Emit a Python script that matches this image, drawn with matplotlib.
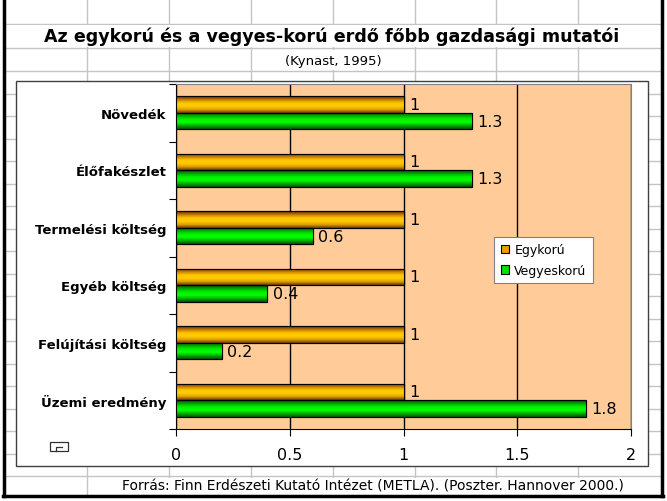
import matplotlib
matplotlib.use("Agg")
import matplotlib.pyplot as plt
import numpy as np
from matplotlib.colors import LinearSegmentedColormap
from matplotlib.patches import Rectangle

categories = ["Növedék", "Élőfakészlet", "Termelési költség", "Egyéb költség",
              "Felújítási költség", "Üzemi eredmény"]
egykoru = [1, 1, 1, 1, 1, 1]
vegyeskoru = [1.3, 1.3, 0.6, 0.4, 0.2, 1.8]
series_names = ["Egykorú", "Vegyeskorú"]
xticks = [0, 0.5, 1, 1.5, 2]

title = "Az egykorú és a vegyes-korú erdő főbb gazdasági mutatói"
subtitle = "(Kynast, 1995)"
source = "Forrás: Finn Erdészeti Kutató Intézet (METLA). (Poszter. Hannover 2000.)"

W, H = 667, 502
fig = plt.figure(figsize=(W / 100, H / 100), dpi=100)

# spreadsheet background, pixel coordinates
bg = fig.add_axes([0, 0, 1, 1])
bg.set_xlim(0, W)
bg.set_ylim(H, 0)
bg.axis("off")
grid_c = "#c4c4c4"
for x in np.arange(87.3, 655, 81.8):
    bg.plot([x, x], [0, 497], color=grid_c, lw=1.0, zorder=1)
rows = [24.5, 49] + list(np.arange(72, 490, 22.5))
for y in rows:
    bg.plot([5, 660], [y, y], color=grid_c, lw=1.0, zorder=1)
# merged cells / text cells hide the grid
bg.add_patch(Rectangle((6, 26), 653, 22, facecolor="white", edgecolor="none", zorder=2))
bg.add_patch(Rectangle((282, 50.5), 104, 20.5, facecolor="white", edgecolor="none", zorder=2))
bg.add_patch(Rectangle((118, 478.5), 512, 17, facecolor="white", edgecolor="none", zorder=2))
# chart area
bg.add_patch(Rectangle((16, 82), 632, 385, facecolor="white", edgecolor="#404040", lw=1.0, zorder=2))
# sheet frame
bg.plot([4, 4], [0, 497], color="black", lw=2.5, zorder=3)
bg.plot([661.5, 661.5], [0, 497], color="black", lw=2.5, zorder=3)
bg.plot([3, 663], [497, 497], color="black", lw=2.5, zorder=3)
# small icon bottom left
bg.add_patch(Rectangle((50, 443), 18, 9, facecolor="white", edgecolor="#303030", lw=0.9, zorder=3))
bg.plot([56, 56, 62], [452, 448, 448], color="#303030", lw=0.9, zorder=3)

fig.text(332, H - 37, title, transform=None, ha="center", va="center",
         fontsize=12.6, fontweight="bold")
fig.text(333, H - 62, subtitle, transform=None, ha="center", va="center", fontsize=9.5)
fig.text(373, H - 487, source, transform=None, ha="center", va="center", fontsize=10)

ax = fig.add_axes([176 / W, 1 - 430 / H, 455 / W, 345 / H])
ax.set_facecolor("#ffcc99")

pos = np.arange(len(categories)) + 0.5
h = 0.29
cmap_o = LinearSegmentedColormap.from_list("o", ["#5a3000", "#c07a00", "#ffc400", "#ffcc00", "#e0a000", "#6b3a00"])
cmap_g = LinearSegmentedColormap.from_list("g", ["#004800", "#00a800", "#00f000", "#00ff00", "#00b000", "#005000"])
grad = np.linspace(0, 1, 64).reshape(-1, 1)

bars_o = ax.barh(pos - h / 2, egykoru, height=h, color="#ffcc00", edgecolor="black", lw=0.8, zorder=3)
bars_g = ax.barh(pos + h / 2, vegyeskoru, height=h, color="#00ff00", edgecolor="black", lw=0.8, zorder=3)
for bars, cmap in [(bars_o, cmap_o), (bars_g, cmap_g)]:
    for b in bars:
        x0, y0, w, hh = b.get_x(), b.get_y(), b.get_width(), b.get_height()
        im = ax.imshow(grad, cmap=cmap, aspect="auto", extent=[x0, x0 + w, y0 + hh, y0], zorder=3.5)
        im.set_clip_path(b)
        ax.add_patch(Rectangle((x0, y0), w, hh, fill=False, edgecolor="black", lw=0.8, zorder=4))

for p, a, b in zip(pos, egykoru, vegyeskoru):
    ax.text(a + 0.025, p - h / 2, f"{a:g}", va="center", ha="left", fontsize=11.5, zorder=5)
    ax.text(b + 0.025, p + h / 2, f"{b:g}", va="center", ha="left", fontsize=11.5, zorder=5)

ax.set_xlim(0, 2)
ax.set_ylim(len(categories), 0)
ax.set_xticks(xticks)
ax.set_xticklabels([f"{t:g}" for t in xticks], fontsize=11.5)
ax.set_yticks(np.arange(len(categories) + 1))
ax.set_yticklabels([])
ax.set_yticks(pos, minor=True)
ax.set_yticklabels(categories, minor=True, fontsize=9.5, fontweight="bold")
ax.tick_params(axis="y", which="minor", length=0, pad=7)
ax.tick_params(axis="y", which="major", length=5, direction="out")
ax.tick_params(axis="x", length=5, direction="out", pad=8)
ax.grid(axis="x", color="black", lw=1, zorder=1)
ax.set_axisbelow(True)
ax.spines["top"].set_color("#808080")
ax.spines["right"].set_color("#808080")
ax.spines["left"].set_color("black")
ax.spines["bottom"].set_color("black")

handles = [Rectangle((0, 0), 1, 1, facecolor="#e8a000", edgecolor="black", lw=0.8),
           Rectangle((0, 0), 1, 1, facecolor="#00e000", edgecolor="black", lw=0.8)]
leg = ax.legend(handles, series_names, loc="upper left", bbox_to_anchor=(0.686, 0.574),
                fontsize=9, fancybox=False, framealpha=1, edgecolor="#808080",
                handlelength=0.7, handleheight=0.7, handletextpad=0.4, borderpad=0.5,
                labelspacing=0.6)
leg.get_frame().set_linewidth(0.8)
leg.set_zorder(6)

fig.savefig("out.png", dpi=100)
